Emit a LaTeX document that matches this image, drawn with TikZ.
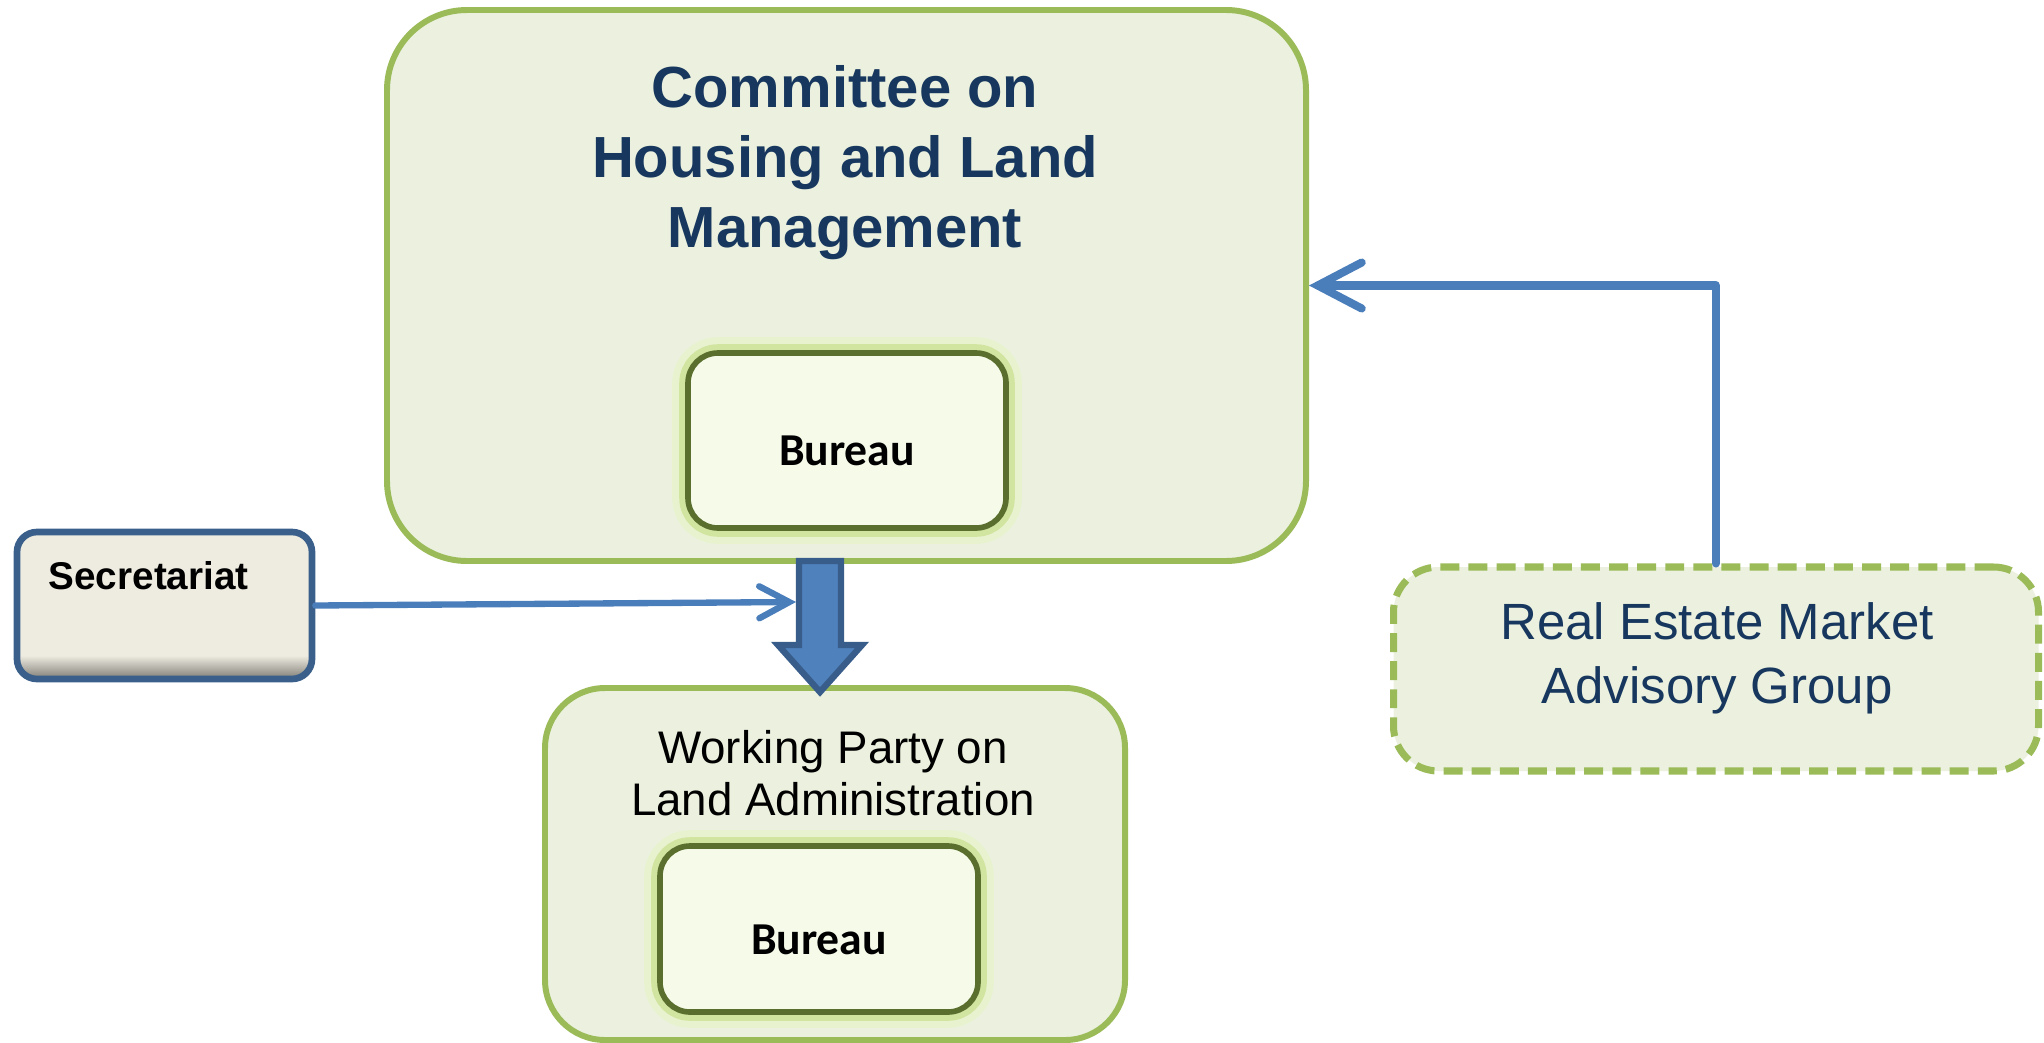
\documentclass[tikz,border=0pt]{standalone}
\usepackage{fontspec}
\setmainfont{Liberation Sans}
\newfontfamily\calfont{Carlito}
\usepackage{tikz}
\usetikzlibrary{arrows.meta,calc,shapes.misc}

\definecolor{boxfill}{HTML}{EBF1DE}
\definecolor{boxedge}{HTML}{9BBB59}
\definecolor{navy}{HTML}{17375E}
\definecolor{linkblue}{HTML}{4A7EBB}
\definecolor{arrfill}{HTML}{4F81BD}
\definecolor{arredge}{HTML}{385D8A}
\definecolor{secfill}{HTML}{EEECE1}
\definecolor{secbot}{HTML}{7E7C74}
\definecolor{secedge}{HTML}{3A5F8B}
\definecolor{burfill}{HTML}{F5FBE8}
\definecolor{buredge}{HTML}{5A6E2E}
\definecolor{glow}{HTML}{D2E5A0}
\pgfdeclareverticalshading{secshade}{100bp}{color(0bp)=(secbot); color(25bp)=(secbot); color(33bp)=(secfill); color(100bp)=(secfill)}

\begin{document}
\begin{tikzpicture}
\tikzstyle{every node}+=[inner sep=0pt]
\tikzstyle{groupbox}=[draw=boxedge, fill=boxfill, line width=1.7pt]
\tikzstyle{bureau}=[draw=buredge, fill=burfill, line width=1.6pt, rounded corners=0.3cm,
  preaction={draw=glow!50!white, line width=9pt},
  preaction={draw=glow, line width=5pt},
  text height=0.5cm, text depth=0cm,
  font=\calfont\bfseries\fontsize{13}{15}\selectfont]
\tikzstyle{conn}=[draw=linkblue, line cap=round, line join=round]
\useasboundingbox (0,0) rectangle (20.44,-10.42);

% committee and its bureau
\node [groupbox, rounded corners=0.8cm, minimum width=9.19cm, minimum height=5.51cm] (committee) at (8.465,-2.855) {};
\node [text=navy, align=center, font=\bfseries\fontsize{16.5}{20}\selectfont] (committeetxt) at (8.45,-1.625) {Committee on\\Housing and Land\\Management};
\node [bureau, minimum width=3.18cm, minimum height=1.75cm] (bureauA) at (8.47,-4.405) {Bureau};

% working party
\node [groupbox, rounded corners=0.6cm, minimum width=5.8cm, minimum height=3.52cm] (wpla) at (8.35,-8.64) {};
\node [align=center, font=\fontsize{13}{14.8}\selectfont] (wplatxt) at (8.33,-7.73) {Working Party on\\Land Administration};
\node [bureau, minimum width=3.18cm, minimum height=1.66cm] (bureauB) at (8.19,-9.29) {Bureau};

% secretariat
\node [draw=secedge, line width=1.9pt, rounded corners=0.2cm, shading=secshade, shade, minimum width=2.95cm, minimum height=1.47cm] (secretariat) at (1.645,-6.055) {};
\node [anchor=west, font=\bfseries\fontsize{11}{13}\selectfont] (sectxt) at (0.48,-5.76) {Secretariat};

% advisory group
\node [groupbox, line width=2pt, dash pattern=on 5.4pt off 2.6pt, rounded corners=0.45cm, minimum width=6.45cm, minimum height=2.04cm] (remag) at (17.16,-6.69) {};
\node [text=navy, align=center, font=\fontsize{14.5}{18.2}\selectfont] (remagtxt) at (17.17,-6.58) {Real Estate Market\\Advisory Group};

% block arrow down
\coordinate (arrtop) at (8.2,-5.61);
\coordinate (arrtip) at (8.2,-6.92);
\draw [fill=arrfill, draw=arredge, line width=1.8pt, line join=miter]
  ($(arrtop)+(-0.21,0)$) -- ($(arrtop)+(0.21,0)$) -- ($(arrtop)+(0.21,-0.84)$)
  -- ($(arrtop)+(0.42,-0.84)$) -- (arrtip) -- ($(arrtop)+(-0.42,-0.84)$)
  -- ($(arrtop)+(-0.21,-0.84)$) -- cycle;

% links
\coordinate (arrin) at ($(arrtop)+(-0.24,-0.41)$);
\draw [conn, line width=1.8pt, -{Straight Barb[length=3mm, width=3.2mm, line cap=round]}] (secretariat.east) -- (arrin);
\draw [conn, line width=2.3pt, -{Straight Barb[length=4.4mm, width=4.6mm, line cap=round]}] (remag.north) |- (committee.east);

\end{tikzpicture}
\end{document}
